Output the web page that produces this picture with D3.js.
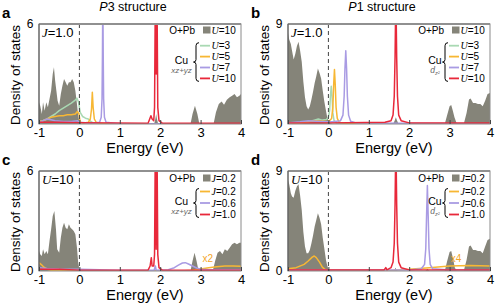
<!DOCTYPE html>
<html><head><meta charset="utf-8">
<script src="https://cdn.jsdelivr.net/npm/d3@7"></script>
<style>
body{margin:0;background:#fff;}
text{font-family:"Liberation Sans",Arial,sans-serif;}
</style></head>
<body><svg id="c" width="499" height="306"></svg>
<script>
// ---------- data ----------
const xTicks = [-1,0,1,2,3,4];
const panelLetters = ["a","b","c","d"];
const titles = ["P3 structure","P1 structure"];
const yMaxes = [6,9,6,9];

// Panel a: P3, J=1.0
const grayA = [[-1,1.3],[-0.97,1.1],[-0.93,0.6],[-0.9,1.3],[-0.86,0.8],[-0.82,1.3],[-0.78,1.0],[-0.74,1.5],[-0.7,2.0],[-0.66,3.0],[-0.63,3.4],[-0.6,2.6],[-0.57,2.0],[-0.54,1.4],[-0.5,1.1],[-0.46,1.8],[-0.42,2.3],[-0.38,2.7],[-0.34,2.5],[-0.3,2.3],[-0.26,2.5],[-0.22,2.5],[-0.18,2.7],[-0.14,2.5],[-0.1,2.0],[-0.06,1.2],[-0.03,0.5],[0,0.1],[0.05,0],[1.85,0],[1.88,0.3],[1.9,0.6],[1.92,0.3],[1.95,0],[2.75,0],[2.8,0.6],[2.86,1.1],[2.92,0.6],[2.97,0],[3.32,0],[3.38,0.7],[3.45,1.2],[3.52,1.35],[3.58,1.15],[3.65,1.45],[3.72,1.6],[3.78,1.7],[3.84,1.8],[3.9,1.6],[3.96,1.7],[4,1.8]];
const greenA = [[-1,0.15],[-0.9,0.2],[-0.8,0.3],[-0.7,0.45],[-0.6,0.6],[-0.5,0.8],[-0.4,0.95],[-0.3,1.1],[-0.2,1.25],[-0.12,1.4],[-0.06,1.55],[-0.02,1.3],[0.02,0.7],[0.08,0.45],[0.15,0.35],[0.22,0.3],[0.28,0.15],[0.35,0.05],[0.5,0.02],[4,0.02]];
const yellowA = [[-1,0.15],[-0.9,0.2],[-0.8,0.3],[-0.7,0.4],[-0.6,0.45],[-0.5,0.5],[-0.4,0.5],[-0.3,0.55],[-0.2,0.55],[-0.1,0.6],[-0.05,0.75],[-0.01,0.6],[0.02,0.1],[0.1,0.05],[0.22,0.1],[0.27,0.3],[0.3,0.9],[0.32,1.9],[0.34,1.0],[0.37,0.3],[0.42,0.08],[0.6,0.02],[4,0.02]];
const purpleA = [[-1,0.1],[-0.9,0.2],[-0.8,0.3],[-0.7,0.25],[-0.6,0.2],[-0.4,0.15],[-0.2,0.15],[-0.05,0.2],[0,0.1],[0.3,0.05],[0.5,0.1],[0.54,0.4],[0.56,1.5],[0.57,4],[0.58,8],[0.59,4],[0.6,1.5],[0.62,0.4],[0.66,0.1],[1,0.02],[4,0.02]];
const redA = [[-1,0.1],[-0.5,0.1],[0,0.08],[1.7,0.05],[1.74,0.3],[1.77,0.5],[1.8,0.3],[1.84,0.2],[1.86,1],[1.88,8],[1.9,3],[1.92,8],[1.94,1],[1.97,0.2],[2.05,0.05],[4,0.05]];

// Panel b: P1, J=1.0
const grayB = [[-1,8.2],[-0.97,7.6],[-0.93,7.2],[-0.9,6.6],[-0.86,5.8],[-0.82,6.3],[-0.78,7.0],[-0.74,7.4],[-0.7,6.6],[-0.66,5.6],[-0.62,3.8],[-0.58,2.4],[-0.54,1.6],[-0.5,1.3],[-0.46,1.6],[-0.42,2.2],[-0.38,2.9],[-0.34,3.7],[-0.3,4.3],[-0.26,5.0],[-0.22,4.6],[-0.18,4.1],[-0.14,3.0],[-0.1,2.0],[-0.06,1.2],[-0.03,0.6],[0,0.3],[0.05,0.1],[0.1,0],[1.6,0],[1.64,0.3],[1.67,0.6],[1.7,0.3],[1.74,0],[2.88,0],[2.94,0.8],[3.0,1.6],[3.04,1.7],[3.08,1.2],[3.12,0.6],[3.18,0],[3.35,0],[3.42,1.0],[3.48,2.2],[3.52,2.3],[3.58,1.9],[3.64,1.9],[3.7,1.8],[3.76,1.8],[3.82,1.6],[3.88,2.1],[3.94,2.7],[4,2.8]];
const greenB = [[-1,0.05],[-0.7,0.1],[-0.5,0.2],[-0.35,0.35],[-0.25,0.45],[-0.15,0.35],[-0.05,0.4],[0,0.6],[0.03,1.2],[0.05,2.5],[0.07,3.4],[0.09,2.5],[0.11,1.0],[0.14,0.3],[0.2,0.1],[0.4,0.03],[4,0.03]];
const yellowB = [[-1,0.05],[-0.7,0.1],[-0.5,0.2],[-0.3,0.3],[-0.15,0.25],[0,0.2],[0.08,0.5],[0.11,1.5],[0.13,3.5],[0.15,4.9],[0.17,3.5],[0.19,1.5],[0.22,0.5],[0.27,0.15],[0.4,0.05],[4,0.03]];
const purpleB = [[-1,0.1],[-0.7,0.2],[-0.5,0.3],[-0.3,0.25],[-0.1,0.2],[0.1,0.2],[0.3,0.3],[0.36,0.8],[0.39,2.5],[0.41,5],[0.43,6.6],[0.45,5],[0.47,2.5],[0.5,0.8],[0.55,0.25],[0.7,0.08],[4,0.03]];
const redB = [[-1,0.1],[0,0.1],[1.4,0.15],[1.55,0.3],[1.6,0.8],[1.63,2.5],[1.65,6],[1.67,12],[1.69,6],[1.71,2.5],[1.74,0.8],[1.8,0.3],[2,0.1],[4,0.1]];

// Panel c: P3, U=10
const grayC = [[-1,1.2],[-0.97,1.0],[-0.93,0.9],[-0.9,1.3],[-0.86,1.0],[-0.82,1.2],[-0.78,1.0],[-0.74,1.8],[-0.7,2.5],[-0.66,3.3],[-0.62,3.6],[-0.58,2.5],[-0.55,1.3],[-0.5,1.1],[-0.46,2.0],[-0.42,2.6],[-0.38,2.9],[-0.34,2.6],[-0.3,2.5],[-0.26,2.8],[-0.22,2.6],[-0.18,2.5],[-0.14,2.4],[-0.1,2.2],[-0.06,1.4],[-0.03,0.5],[0,0.1],[0.05,0],[2.75,0],[2.8,0.6],[2.85,1.1],[2.9,0.6],[2.95,0],[3.3,0],[3.36,0.6],[3.42,1.1],[3.48,1.2],[3.54,1.0],[3.6,1.3],[3.66,1.2],[3.72,1.4],[3.78,1.6],[3.84,1.7],[3.9,1.6],[3.96,1.7],[4,1.7]];
const orangeC = [[-1,0.5],[-0.95,0.4],[-0.9,0.28],[-0.85,0.18],[-0.8,0.1],[-0.7,0.05],[0,0.02],[2.6,0.02],[2.8,0.05],[3.0,0.12],[3.2,0.2],[3.4,0.26],[3.6,0.3],[3.8,0.3],[4,0.28]];
const purpleC = [[-1,0.2],[-0.8,0.15],[-0.5,0.12],[0,0.1],[1,0.05],[1.85,0.05],[1.88,0.3],[1.9,0.05],[2.2,0.08],[2.35,0.2],[2.45,0.35],[2.55,0.48],[2.62,0.5],[2.7,0.42],[2.8,0.3],[2.9,0.18],[3.0,0.1],[3.2,0.08],[4,0.08]];
const redC = [[-1,0.1],[-0.5,0.1],[0,0.05],[1.7,0.05],[1.75,0.3],[1.78,0.8],[1.8,0.3],[1.84,0.3],[1.86,1],[1.88,8],[1.9,1.3],[1.92,8],[1.94,1],[1.97,0.2],[2.05,0.05],[4,0.05]];

// Panel d: P1, U=10
const grayD = [[-1,8.2],[-0.97,7.8],[-0.93,7.0],[-0.9,6.7],[-0.86,6.6],[-0.82,7.2],[-0.78,7.6],[-0.74,7.8],[-0.7,6.8],[-0.66,5.5],[-0.62,3.5],[-0.58,2.2],[-0.54,1.6],[-0.5,1.6],[-0.46,1.9],[-0.42,2.5],[-0.38,3.2],[-0.34,4.0],[-0.3,4.6],[-0.26,5.2],[-0.22,4.8],[-0.18,4.2],[-0.14,3.0],[-0.1,2.0],[-0.06,1.0],[-0.03,0.5],[0,0.2],[0.05,0.1],[0.1,0],[1.62,0],[1.66,0.3],[1.69,0.1],[1.72,0],[2.4,0],[2.45,0.2],[2.5,0],[2.88,0],[2.94,0.9],[3.0,1.7],[3.04,1.8],[3.08,1.2],[3.13,0.3],[3.18,0],[3.35,0],[3.42,1.0],[3.48,2.2],[3.52,2.3],[3.58,1.9],[3.64,1.9],[3.7,1.8],[3.76,1.8],[3.82,1.6],[3.88,2.2],[3.94,2.8],[4,2.9]];
const orangeD = [[-1,0.2],[-0.8,0.3],[-0.6,0.6],[-0.5,0.9],[-0.4,1.25],[-0.35,1.35],[-0.3,1.2],[-0.22,0.8],[-0.15,0.35],[-0.08,0.12],[0,0.08],[0.5,0.05],[1.5,0.05],[2.0,0.15],[2.5,0.3],[3.0,0.45],[3.5,0.5],[4,0.45]];
const purpleD = [[-1,0.1],[0,0.1],[2,0.1],[2.3,0.2],[2.38,0.6],[2.41,2],[2.43,5],[2.45,7.7],[2.47,5],[2.49,2],[2.52,0.6],[2.58,0.2],[3,0.1],[4,0.1]];
const redD = [[-1,0.1],[0,0.1],[1.38,0.1],[1.42,0.3],[1.45,0.1],[1.55,0.3],[1.6,0.8],[1.63,2.5],[1.65,6],[1.67,12],[1.69,6],[1.71,2.5],[1.74,0.8],[1.8,0.3],[2,0.1],[4,0.1]];

// ---------- styles ----------
const C = {gray:"#858479", green:"#a9d9b3", yellow:"#f7b733", purple:"#a99be3", red:"#e8283a", orange:"#f4a62a"};

const panels = [
  {x:39, y:24, gray:grayA, lines:[[greenA,C.green],[yellowA,C.yellow],[purpleA,C.purple],[redA,C.red]],
   note:["J","=1.0"], grayLab:["U","=10"], entries:[["U","=3",C.green],["U","=5",C.yellow],["U","=7",C.purple],["U","=10",C.red]], orb:"xz", mult:null},
  {x:288, y:24, gray:grayB, lines:[[greenB,C.green],[yellowB,C.yellow],[purpleB,C.purple],[redB,C.red]],
   note:["J","=1.0"], grayLab:["U","=10"], entries:[["U","=3",C.green],["U","=5",C.yellow],["U","=7",C.purple],["U","=10",C.red]], orb:"dz", mult:null},
  {x:39, y:171, gray:grayC, lines:[[orangeC,C.yellow],[purpleC,C.purple],[redC,C.red]],
   note:["U","=10"], grayLab:["J","=0.2"], entries:[["J","=0.2",C.yellow],["J","=0.6",C.purple],["J","=1.0",C.red]], orb:"xz", mult:["x2",3.05,0.55]},
  {x:288, y:171, gray:grayD, lines:[[orangeD,C.yellow],[purpleD,C.purple],[redD,C.red]],
   note:["U","=10"], grayLab:["J","=0.2"], entries:[["J","=0.2",C.yellow],["J","=0.6",C.purple],["J","=1.0",C.red]], orb:"dz", mult:["x4",3.03,0.85]},
];

const W = 202, H = 100;
const svg = d3.select("#c");

// titles
svg.append("text").attr("x",133).attr("y",11).attr("text-anchor","middle").attr("font-size",12.5)
  .html('<tspan font-style="italic">P</tspan>3 structure');
svg.append("text").attr("x",382).attr("y",11).attr("text-anchor","middle").attr("font-size",12.5)
  .html('<tspan font-style="italic">P</tspan>1 structure');

panels.forEach((p,i)=>{
  const ymax = yMaxes[i];
  const x = d3.scaleLinear().domain([-1,4]).range([0,W]);
  const y = d3.scaleLinear().domain([0,ymax]).range([H,0]);
  const g = svg.append("g").attr("transform",`translate(${p.x},${p.y})`);

  // panel letter
  svg.append("text").attr("x",p.x-37).attr("y",p.y-6).attr("font-size",15).attr("font-weight","bold").text(panelLetters[i]);

  const cid = "clip"+i;
  g.append("clipPath").attr("id",cid).append("rect").attr("width",W).attr("height",H);
  const plot = g.append("g").attr("clip-path",`url(#${cid})`);

  plot.append("path").datum(p.gray)
    .attr("d", d3.area().x(d=>x(d[0])).y0(y(0)).y1(d=>y(d[1])))
    .attr("fill",C.gray);

  p.lines.forEach(([data,col])=>{
    plot.append("path").datum(data)
      .attr("d", d3.line().x(d=>x(d[0])).y(d=>y(d[1])))
      .attr("fill","none").attr("stroke",col).attr("stroke-width",1.5).attr("stroke-linejoin","round");
  });

  // dashed zero line
  g.append("line").attr("x1",x(0)).attr("x2",x(0)).attr("y1",0).attr("y2",H)
    .attr("stroke","#444").attr("stroke-width",1).attr("stroke-dasharray","4,3");

  // frame
  g.append("rect").attr("width",W).attr("height",H).attr("fill","none").attr("stroke","#8a8a8a").attr("stroke-width",1);
  g.append("line").attr("x1",0).attr("x2",W).attr("y1",0).attr("y2",0).attr("stroke","#909090").attr("stroke-width",2);
  g.append("line").attr("x1",0).attr("x2",0).attr("y1",0).attr("y2",H).attr("stroke","#555").attr("stroke-width",1);

  // x axis
  const xa = g.append("g").attr("transform",`translate(0,${H})`)
    .call(d3.axisBottom(x).tickValues(xTicks).tickFormat(d=>String(d)).tickSizeInner(-4).tickSizeOuter(0).tickPadding(3.5));
  xa.select(".domain").remove();
  xa.selectAll("line").attr("stroke","#444");
  xa.selectAll("text").attr("font-size",13).attr("font-family","Liberation Sans, Arial, sans-serif").attr("fill","#000");

  // y axis
  const ya = g.append("g")
    .call(d3.axisLeft(y).tickValues([0,ymax]).tickFormat(d=>String(d)).tickSize(0).tickPadding(5.5));
  ya.select(".domain").remove();
  ya.selectAll("text").attr("font-size",12).attr("font-family","Liberation Sans, Arial, sans-serif").attr("fill","#000");

  // axis titles
  svg.append("text").attr("transform",`translate(${p.x-19.5},${p.y+H/2+1}) rotate(-90)`)
    .attr("text-anchor","middle").attr("font-size",13.5).text("Density of states");
  svg.append("text").attr("x",p.x+106).attr("y",p.y+H+29).attr("text-anchor","middle").attr("font-size",14.5).text("Energy (eV)");

  // note top-left
  g.append("text").attr("x",3).attr("y",13).attr("font-size",13)
    .html(`<tspan font-style="italic" font-family="Liberation Serif, serif">${p.note[0]}</tspan>${p.note[1]}`);

  // legend
  const R = W;
  const four = p.entries.length===4;
  const L = g.append("g").attr("font-size",10);
  const r0 = four ? 9.5 : 10.5;
  L.append("text").attr("x",R-46).attr("y",r0).attr("text-anchor","end").text("O+Pb");
  L.append("rect").attr("x",R-38).attr("y",r0-7).attr("width",7.5).attr("height",7).attr("fill",C.gray);
  L.append("text").attr("x",R-29.5).attr("y",r0)
    .html(`<tspan font-style="italic" font-family="Liberation Serif, serif">${p.grayLab[0]}</tspan>${p.grayLab[1]}`);
  const rows = four ? [21.7,32.6,43.5,54.4] : [20.5,32,43.5];
  p.entries.forEach((e,k)=>{
    L.append("line").attr("x1",R-41).attr("x2",R-31).attr("y1",rows[k]).attr("y2",rows[k]).attr("stroke",e[2]).attr("stroke-width",1.8);
    L.append("text").attr("x",R-29.5).attr("y",rows[k]+3.5)
      .html(`<tspan font-style="italic" font-family="Liberation Serif, serif">${e[0]}</tspan>${e[1]}`);
  });
  // curly brace
  const bx = R-45, y1 = rows[0]-3, y2 = rows[rows.length-1]+3, ym = (y1+y2)/2;
  L.append("path").attr("d",`M${bx+3},${y1} Q${bx},${y1} ${bx},${y1+3} L${bx},${ym-2.5} Q${bx},${ym} ${bx-2.5},${ym} Q${bx},${ym} ${bx},${ym+2.5} L${bx},${y2-3} Q${bx},${y2} ${bx+3},${y2}`)
    .attr("fill","none").attr("stroke","#000").attr("stroke-width",1);
  const cuX = p.orb==="xz" ? R-59.5 : R-55;
  L.append("text").attr("x",cuX).attr("y",ym+2).attr("text-anchor","middle").attr("font-size",10.5).text("Cu");
  if(p.orb==="xz"){
    L.append("text").attr("x",cuX).attr("y",ym+11).attr("text-anchor","middle").attr("font-size",8)
      .attr("font-style","italic").attr("font-family","Liberation Serif, serif").attr("fill","#666").text("xz+yz");
  } else {
    L.append("text").attr("x",cuX).attr("y",ym+11).attr("text-anchor","middle").attr("font-size",8.5)
      .attr("font-style","italic").attr("font-family","Liberation Serif, serif").attr("fill","#666")
      .html('d<tspan font-size="5.5" dy="1.5">z²</tspan>');
  }

  if(p.mult){
    g.append("text").attr("x",x(p.mult[1])).attr("y",y(p.mult[2])).attr("font-size",10).attr("fill",C.orange).text(p.mult[0]);
  }
});
</script></body></html>
